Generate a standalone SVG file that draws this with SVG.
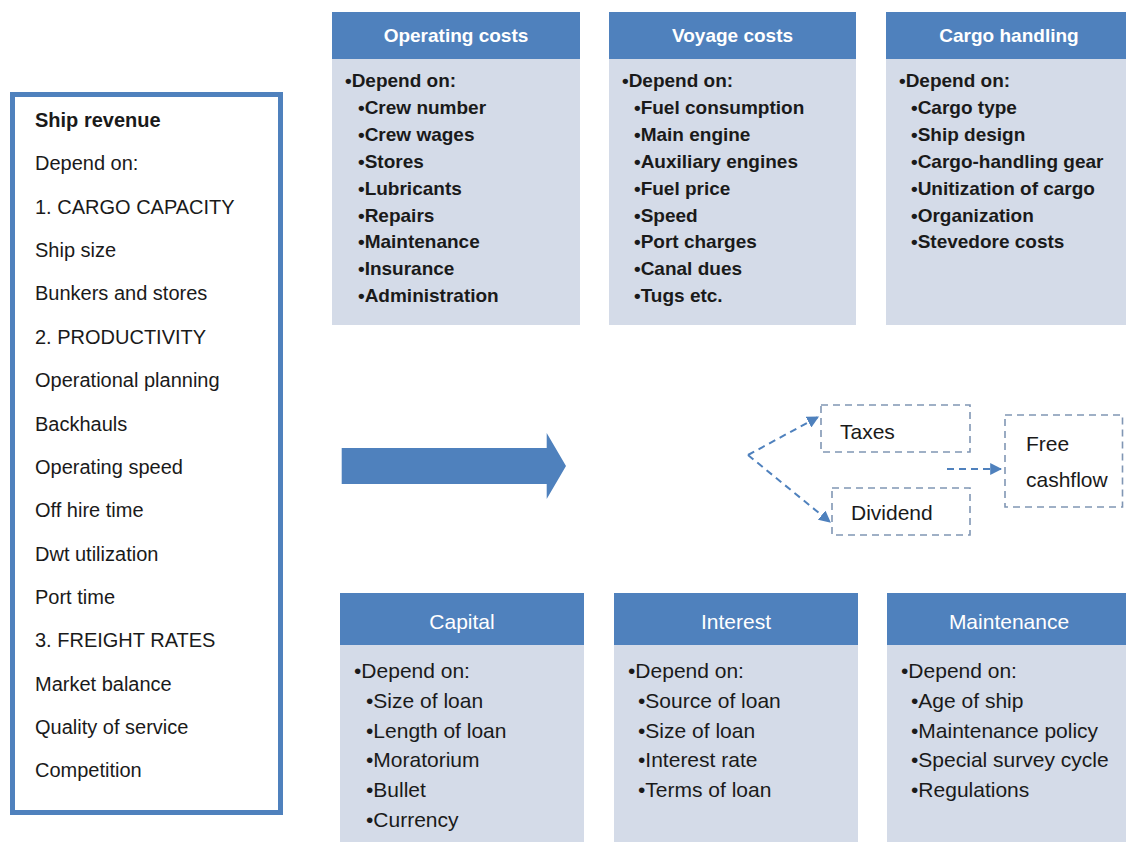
<svg xmlns="http://www.w3.org/2000/svg" width="1126" height="842" viewBox="0 0 1126 842">
<defs>
<style>
text{font-family:"Liberation Sans",Arial,sans-serif;fill:#1a1a1a}
.hd{fill:#4f81bd}
.bd{fill:#d4dbe8}
.th{font-size:19px;font-weight:bold;fill:#fff;text-anchor:middle}
.tb{font-size:19px;font-weight:bold}
.bh{font-size:21px;fill:#fff;text-anchor:middle}
.bb{font-size:21px}
.lt{font-size:20px}
.dbox{fill:none;stroke:#8096b4;stroke-width:1.6;stroke-dasharray:7 5}
.dline{fill:none;stroke:#4f81bd;stroke-width:2;stroke-dasharray:7 5}
.mid{font-size:21px}
</style>
<marker id="ah" viewBox="0 0 10 10" refX="9" refY="5" markerWidth="6" markerHeight="6" orient="auto" markerUnits="strokeWidth">
<path d="M0,0 L10,5 L0,10 z" fill="#4f81bd"/>
</marker>
</defs>
<rect width="1126" height="842" fill="#fff"/>

<g id="ship-revenue">
<rect x="12.5" y="94.5" width="268" height="718" fill="#fff" stroke="#4f81bd" stroke-width="5"/>
<text class="lt" x="35" y="127" font-weight="bold">Ship revenue</text>
<text class="lt" x="35" y="170.4">Depend on:</text>
<text class="lt" x="35" y="213.7">1. CARGO CAPACITY</text>
<text class="lt" x="35" y="257">Ship size</text>
<text class="lt" x="35" y="300.4">Bunkers and stores</text>
<text class="lt" x="35" y="343.8">2. PRODUCTIVITY</text>
<text class="lt" x="35" y="387">Operational planning</text>
<text class="lt" x="35" y="430.5">Backhauls</text>
<text class="lt" x="35" y="473.8">Operating speed</text>
<text class="lt" x="35" y="517">Off hire time</text>
<text class="lt" x="35" y="560.5">Dwt utilization</text>
<text class="lt" x="35" y="603.9">Port time</text>
<text class="lt" x="35" y="647">3. FREIGHT RATES</text>
<text class="lt" x="35" y="690.6">Market balance</text>
<text class="lt" x="35" y="734">Quality of service</text>
<text class="lt" x="35" y="777">Competition</text>
</g>

<g id="operating-costs">
<rect class="bd" x="332" y="59" width="248" height="266"/>
<rect class="hd" x="332" y="12" width="248" height="47"/>
<text class="th" x="456" y="42">Operating costs</text>
<text class="tb" x="345" y="87">•Depend on:</text>
<text class="tb" x="358" y="114">•Crew number</text>
<text class="tb" x="358" y="141">•Crew wages</text>
<text class="tb" x="358" y="168">•Stores</text>
<text class="tb" x="358" y="194.6">•Lubricants</text>
<text class="tb" x="358" y="221.5">•Repairs</text>
<text class="tb" x="358" y="248">•Maintenance</text>
<text class="tb" x="358" y="275">•Insurance</text>
<text class="tb" x="358" y="302">•Administration</text>
</g>

<g id="voyage-costs">
<rect class="bd" x="609" y="59" width="247" height="266"/>
<rect class="hd" x="609" y="12" width="247" height="47"/>
<text class="th" x="732.5" y="42">Voyage costs</text>
<text class="tb" x="622" y="87">•Depend on:</text>
<text class="tb" x="634" y="114">•Fuel consumption</text>
<text class="tb" x="634" y="141">•Main engine</text>
<text class="tb" x="634" y="168">•Auxiliary engines</text>
<text class="tb" x="634" y="194.6">•Fuel price</text>
<text class="tb" x="634" y="221.5">•Speed</text>
<text class="tb" x="634" y="248">•Port charges</text>
<text class="tb" x="634" y="275">•Canal dues</text>
<text class="tb" x="634" y="302">•Tugs etc.</text>
</g>

<g id="cargo-handling">
<rect class="bd" x="886" y="59" width="246" height="266"/>
<rect class="hd" x="886" y="12" width="246" height="47"/>
<text class="th" x="1009" y="42">Cargo handling</text>
<text class="tb" x="899" y="87">•Depend on:</text>
<text class="tb" x="911" y="114">•Cargo type</text>
<text class="tb" x="911" y="141">•Ship design</text>
<text class="tb" x="911" y="168">•Cargo-handling gear</text>
<text class="tb" x="911" y="194.6">•Unitization of cargo</text>
<text class="tb" x="911" y="221.5">•Organization</text>
<text class="tb" x="911" y="248">•Stevedore costs</text>
</g>

<g id="big-arrow">
<path d="M341.7,448 L546.7,448 L546.7,433 L566,466 L546.7,499 L546.7,484 L341.7,484 Z" fill="#4f81bd"/>
</g>

<g id="taxes">
<rect class="dbox" x="821" y="405" width="149" height="47"/>
<text class="mid" x="840" y="439">Taxes</text>
</g>
<g id="dividend">
<rect class="dbox" x="832" y="488" width="138" height="47"/>
<text class="mid" x="851" y="520">Dividend</text>
</g>
<g id="free-cashflow">
<rect class="dbox" x="1005" y="415" width="117.5" height="92"/>
<text class="mid" x="1026" y="451">Free</text>
<text class="mid" x="1026" y="487">cashflow</text>
</g>

<g id="connectors">
<path class="dline" d="M748,455 L818,417" marker-end="url(#ah)"/>
<path class="dline" d="M748,455 L830,522" marker-end="url(#ah)"/>
<path class="dline" d="M947,469 L1001,469" marker-end="url(#ah)"/>
</g>

<g id="capital">
<rect class="bd" x="340" y="645" width="244" height="200"/>
<rect class="hd" x="340" y="593" width="244" height="52"/>
<text class="bh" x="462" y="629">Capital</text>
<text class="bb" x="354" y="678">•Depend on:</text>
<text class="bb" x="366" y="708">•Size of loan</text>
<text class="bb" x="366" y="737.5">•Length of loan</text>
<text class="bb" x="366" y="767">•Moratorium</text>
<text class="bb" x="366" y="797">•Bullet</text>
<text class="bb" x="366" y="826.5">•Currency</text>
</g>

<g id="interest">
<rect class="bd" x="614" y="645" width="244" height="200"/>
<rect class="hd" x="614" y="593" width="244" height="52"/>
<text class="bh" x="736" y="629">Interest</text>
<text class="bb" x="628" y="678">•Depend on:</text>
<text class="bb" x="638" y="708">•Source of loan</text>
<text class="bb" x="638" y="737.5">•Size of loan</text>
<text class="bb" x="638" y="767">•Interest rate</text>
<text class="bb" x="638" y="797">•Terms of loan</text>
</g>

<g id="maintenance">
<rect class="bd" x="887" y="645" width="245" height="200"/>
<rect class="hd" x="887" y="593" width="245" height="52"/>
<text class="bh" x="1009" y="629">Maintenance</text>
<text class="bb" x="901" y="678">•Depend on:</text>
<text class="bb" x="911" y="708">•Age of ship</text>
<text class="bb" x="911" y="737.5">•Maintenance policy</text>
<text class="bb" x="911" y="767">•Special survey cycle</text>
<text class="bb" x="911" y="797">•Regulations</text>
</g>
</svg>
